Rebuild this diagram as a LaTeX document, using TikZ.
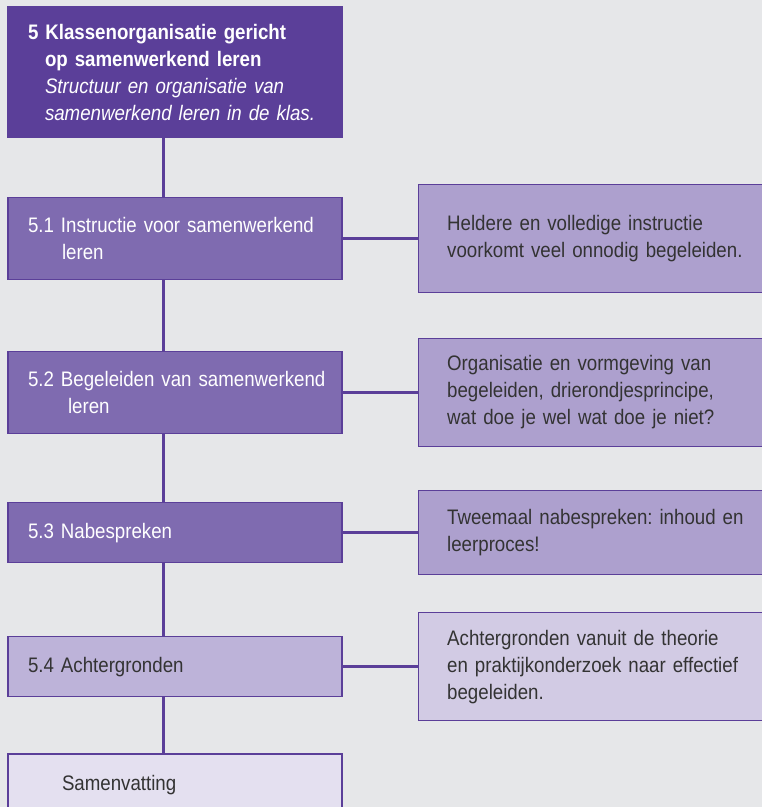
\documentclass[tikz,border=0pt]{standalone}
\usepackage{fontspec}
\setmainfont{Liberation Sans}[FakeStretch=0.89, WordSpace=0.65]
\usepackage{tikz}
\usetikzlibrary{positioning}
\frenchspacing
\hyphenpenalty=10000
\definecolor{achtergrond}{RGB}{230,231,233}
\definecolor{donkerpaars}{RGB}{91,63,153}
\definecolor{middenpaars}{RGB}{127,107,176}
\definecolor{lichtpaars}{RGB}{173,160,206}
\definecolor{zachtpaars}{RGB}{189,179,217}
\definecolor{bleekpaars}{RGB}{210,203,228}
\definecolor{wittig}{RGB}{228,224,240}
\definecolor{tekstgrijs}{RGB}{51,51,51}
\tikzset{every node/.style={font=\fontsize{21}{27}\selectfont, align=left, inner ysep=0pt},
blok/.style={rectangle, draw=donkerpaars, line width=1.2pt, text width=294pt, inner xsep=20pt},
kop/.style={blok, fill=donkerpaars, text=white, minimum height=130pt},
stap/.style={blok, fill=middenpaars, text=white, minimum height=82pt},
uitleg/.style={rectangle, draw=donkerpaars, line width=1.2pt, fill=lichtpaars, text=tekstgrijs,
  text width=302pt, inner xsep=29pt, minimum height=108pt},
lijn/.style={draw=donkerpaars, line width=3pt},
}

\begin{document}
\begin{tikzpicture}[x=1pt, y=1pt]
            \fill[achtergrond] (0,0) rectangle (762,-807);
            \useasboundingbox (0,0) rectangle (762,-807);

            \node[kop] (k5) at (175,-72) {\textbf{5 Klassenorganisatie gericht}\\\hspace*{17pt}\textbf{op samenwerkend leren}\\\hspace*{17pt}\textit{Structuur en organisatie van}\\\hspace*{17pt}\textit{samenwerkend leren in de klas.}};
            \node[stap, below=59pt of k5] (s51) {\mbox{5.1 Instructie voor samenwerkend}\\\hspace*{34pt}leren};
            \node[stap, below=71pt of s51] (s52) {\mbox{5.2 Begeleiden van samenwerkend}\\\hspace*{40pt}leren};
            \node[stap, below=68pt of s52, minimum height=60pt] (s53) {5.3 Nabespreken};
            \node[stap, below=73pt of s53, minimum height=60pt, fill=zachtpaars, text=tekstgrijs] (s54) {5.4 Achtergronden};
            \node[stap, below=56pt of s54, minimum height=62pt, fill=wittig, text=tekstgrijs] (sv) {\hspace*{34pt}Samenvatting};

            \node[uitleg, right=75pt of s51] (t51) {Heldere en volledige instructie\\voorkomt veel onnodig begeleiden.};
            \node[uitleg, right=75pt of s52] (t52) {Organisatie en vormgeving van\\begeleiden, drierondjesprincipe,\\wat doe je wel wat doe je niet?};
            \node[uitleg, right=75pt of s53, minimum height=84pt] (t53) {Tweemaal nabespreken: inhoud en\\leerproces!};
            \node[uitleg, right=75pt of s54, fill=bleekpaars] (t54) {Achtergronden vanuit de theorie\\en praktijkonderzoek naar effectief\\begeleiden.};

            \foreach \a/\b in {k5/s51, s51/s52, s52/s53, s53/s54, s54/sv}
                \draw[lijn] ([xshift=-12pt]\a.south) -- ([xshift=-12pt]\b.north);
            \draw[lijn] (s51) edge (t51)
                  (s52) edge (t52)
                  (s53) edge (t53)
                  (s54) edge (t54);
        \end{tikzpicture}
\end{document}
